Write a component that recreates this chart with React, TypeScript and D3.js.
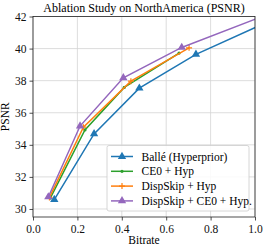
import { useEffect, useRef } from "react"
import * as d3 from "d3"

// Series (bitrate, PSNR)
const balleBitrate = [0.096, 0.275, 0.479, 0.734, 1.15]
const ballePsnr = [30.58, 34.68, 37.53, 39.64, 42.25]
const ce0Bitrate = [0.078, 0.234, 0.411, 0.658]
const ce0Psnr = [30.68, 34.93, 37.58, 39.72]
const dispBitrate = [0.074, 0.227, 0.441, 0.703]
const dispPsnr = [30.72, 35.1, 37.97, 40.05]
const allBitrate = [0.069, 0.212, 0.407, 0.67, 1.2]
const allPsnr = [30.75, 35.17, 38.18, 40.07, 42.9]

const xTicks = [0, 0.2, 0.4, 0.6, 0.8, 1.0]
const yTicks = [30, 32, 34, 36, 38, 40, 42]

type Marker = "tri" | "dot" | "plus"

const series = [
  { name: "Ballé (Hyperprior)", color: "#1f77b4", marker: "tri" as Marker, xs: balleBitrate, ys: ballePsnr },
  { name: "CE0 + Hyp", color: "#2ca02c", marker: "dot" as Marker, xs: ce0Bitrate, ys: ce0Psnr },
  { name: "DispSkip + Hyp", color: "#ff7f0e", marker: "plus" as Marker, xs: dispBitrate, ys: dispPsnr },
  { name: "DispSkip + CE0 + Hyp.", color: "#9467bd", marker: "tri" as Marker, xs: allBitrate, ys: allPsnr },
]

const font = "'Liberation Serif', 'Times New Roman', serif"

export default function App() {
  const svgRef = useRef<SVGSVGElement>(null)

  useEffect(() => {
    if (!svgRef.current) return
    d3.select(svgRef.current).selectAll("*").remove()

    const W = 267
    const H = 250
    const margin = { top: 16.5, right: 12, bottom: 33, left: 33 }
    const width = W - margin.left - margin.right
    const height = H - margin.top - margin.bottom

    const svg = d3.select(svgRef.current).attr("width", W).attr("height", H)
    const g = svg.append("g").attr("transform", `translate(${margin.left},${margin.top})`)

    const x = d3.scaleLinear().domain([0, 1]).range([0, width])
    const y = d3.scaleLinear().domain([29.5, 42]).range([height, 0])

    g.append("clipPath").attr("id", "plot-clip")
      .append("rect").attr("width", width).attr("height", height)

    // grid
    g.append("g")
      .selectAll("line")
      .data(xTicks)
      .enter()
      .append("line")
      .attr("x1", (d) => x(d)).attr("x2", (d) => x(d))
      .attr("y1", 0).attr("y2", height)
      .attr("stroke", "#d4d4d4").attr("stroke-width", 0.8)
    g.append("g")
      .selectAll("line")
      .data(yTicks)
      .enter()
      .append("line")
      .attr("x1", 0).attr("x2", width)
      .attr("y1", (d) => y(d)).attr("y2", (d) => y(d))
      .attr("stroke", "#d4d4d4").attr("stroke-width", 0.8)

    // axes
    const xAxis = g.append("g")
      .attr("transform", `translate(0,${height})`)
      .call(d3.axisBottom(x).tickValues(xTicks).tickFormat(d3.format(".1f")).tickSize(3.5).tickSizeOuter(0))
    const yAxis = g.append("g")
      .call(d3.axisLeft(y).tickValues(yTicks).tickFormat(d3.format("d")).tickSize(3.5).tickSizeOuter(0))
    for (const ax of [xAxis, yAxis]) {
      ax.select(".domain").remove()
      ax.selectAll("line").attr("stroke", "#222").attr("stroke-width", 0.8)
      ax.selectAll("text").attr("font-family", font).attr("font-size", 11.5).attr("fill", "#111")
    }
    xAxis.selectAll("text").attr("dy", "0.85em")

    // series
    const clipped = g.append("g").attr("clip-path", "url(#plot-clip)")
    series.forEach((s) => {
      const pts = s.xs.map((v, i) => [v, s.ys[i]] as [number, number])
      const line = d3.line<[number, number]>().x((d) => x(d[0])).y((d) => y(d[1]))
      clipped.append("path")
        .datum(pts)
        .attr("fill", "none")
        .attr("stroke", s.color)
        .attr("stroke-width", 1.5)
        .attr("d", line)

      const visible = pts.filter((p) => p[0] <= 1)
      const mk = clipped.selectAll(null).data(visible).enter().append("g")
        .attr("transform", (d) => `translate(${x(d[0])},${y(d[1])})`)
      if (s.marker === "tri") {
        mk.append("path").attr("d", d3.symbol(d3.symbolTriangle, 30)()).attr("fill", s.color)
      } else if (s.marker === "dot") {
        mk.append("circle").attr("r", 1.6).attr("fill", s.color)
      } else {
        mk.append("path").attr("d", "M-3,0H3M0,-3V3").attr("stroke", s.color).attr("stroke-width", 1.2)
      }
    })

    // frame
    g.append("rect")
      .attr("width", width).attr("height", height)
      .attr("fill", "none").attr("stroke", "#222").attr("stroke-width", 0.8)

    // title and labels
    svg.append("text")
      .attr("x", margin.left + width / 2).attr("y", 12)
      .attr("text-anchor", "middle")
      .attr("font-family", font).attr("font-size", 12)
      .text("Ablation Study on NorthAmerica (PSNR)")
    svg.append("text")
      .attr("x", margin.left + width / 2).attr("y", 244)
      .attr("text-anchor", "middle")
      .attr("font-family", font).attr("font-size", 11.5)
      .text("Bitrate")
    svg.append("text")
      .attr("transform", `translate(9,${margin.top + height / 2}) rotate(-90)`)
      .attr("text-anchor", "middle")
      .attr("font-family", font).attr("font-size", 11.5)
      .text("PSNR")

    // legend
    const legend = svg.append("g").attr("transform", "translate(107,145.5)")
    legend.append("rect")
      .attr("width", 142).attr("height", 65.5).attr("rx", 2)
      .attr("fill", "white").attr("fill-opacity", 0.85)
      .attr("stroke", "#cccccc").attr("stroke-width", 0.8)
    series.forEach((s, i) => {
      const ly = 11 + i * 14.8
      const row = legend.append("g").attr("transform", `translate(0,${ly})`)
      row.append("line")
        .attr("x1", 4).attr("x2", 26)
        .attr("stroke", s.color).attr("stroke-width", 1.5)
      const m = row.append("g").attr("transform", "translate(15,0)")
      if (s.marker === "tri") {
        m.append("path").attr("d", d3.symbol(d3.symbolTriangle, 30)()).attr("fill", s.color)
      } else if (s.marker === "dot") {
        m.append("circle").attr("r", 1.6).attr("fill", s.color)
      } else {
        m.append("path").attr("d", "M-3,0H3M0,-3V3").attr("stroke", s.color).attr("stroke-width", 1.2)
      }
      row.append("text")
        .attr("x", 34.5).attr("y", 4)
        .attr("font-family", font).attr("font-size", 11.5)
        .text(s.name)
    })
  }, [])

  return (
    <div style={{ position: "absolute", left: 0, top: 0 }}>
      <svg ref={svgRef} style={{ display: "block" }} />
    </div>
  )
}
